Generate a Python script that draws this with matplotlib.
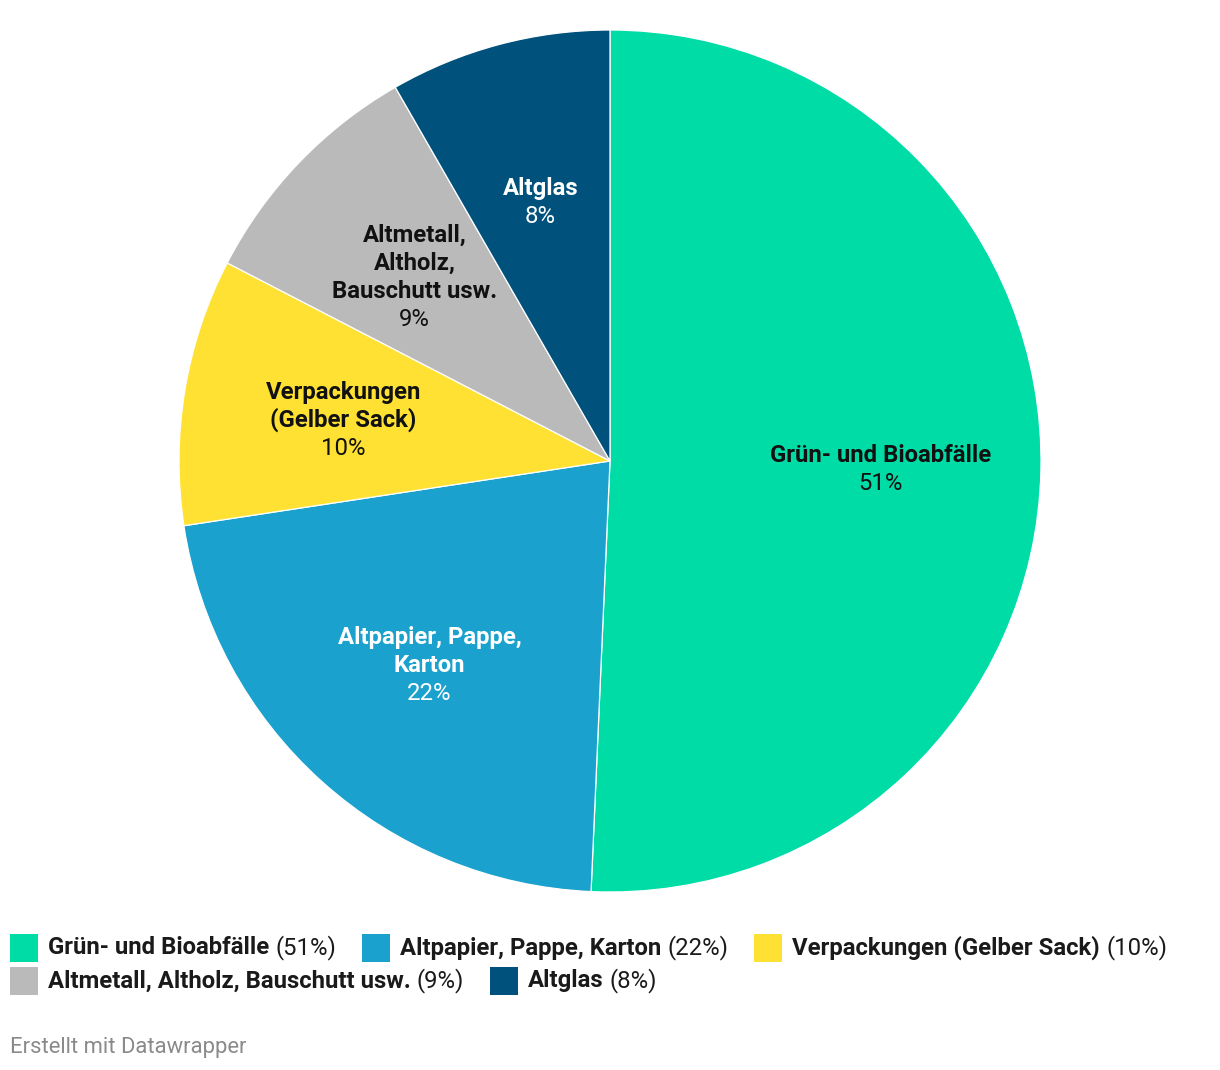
import matplotlib
matplotlib.use("Agg")
import matplotlib.pyplot as plt
import numpy as np

plt.rcParams['font.family'] = ['Roboto', 'DejaVu Sans']

categories = ["Grün- und Bioabfälle", "Altpapier, Pappe, Karton", "Verpackungen (Gelber Sack)",
              "Altmetall, Altholz, Bauschutt usw.", "Altglas"]
pie_labels = ["Grün- und Bioabfälle", "Altpapier, Pappe,\nKarton", "Verpackungen\n(Gelber Sack)",
              "Altmetall,\nAltholz,\nBauschutt usw.", "Altglas"]
values = [50.7, 21.9, 10.0, 9.1, 8.3]
colors = ["#00dca6", "#1aa1cd", "#ffe133", "#bababa", "#00527c"]
text_colors = ["#111111", "#ffffff", "#111111", "#111111", "#ffffff"]

W, H, DPI = 1220, 1070, 100
fig = plt.figure(figsize=(W / DPI, H / DPI), dpi=DPI)
fig.patch.set_facecolor("white")

cx, cy, r = 610, 461, 431
ax = fig.add_axes([(cx - r) / W, (H - cy - r) / H, 2 * r / W, 2 * r / H])

wedges, _ = ax.pie(values, colors=colors, startangle=90, counterclock=False, radius=1,
                   wedgeprops=dict(edgecolor="white", linewidth=0.9))
ax.set_xlim(-1, 1)
ax.set_ylim(-1, 1)
ax.set_aspect("equal")
ax.axis("off")

fs = 17.2
line_h = 28 / r  # data units
shift = 3 / r
total = sum(values)
cum = 0
for v, lab, tc in zip(values, pie_labels, text_colors):
    mid = (cum + v / 2) / total * 2 * np.pi
    cum += v
    lx = 0.627 * np.sin(mid)
    ly = 0.627 * np.cos(mid) - shift
    lines = lab.split("\n")
    n = len(lines) + 1
    top = ly + (n - 1) / 2 * line_h
    for i, ln in enumerate(lines):
        ax.text(lx, top - i * line_h, ln, ha="center", va="center", fontsize=fs,
                fontweight="bold", color=tc)
    ax.text(lx, top - len(lines) * line_h, f"{round(v)}%", ha="center", va="center",
            fontsize=fs, color=tc)

# Legend
renderer = fig.canvas.get_renderer()
rows = [[0, 1, 2], [3, 4]]
row_y = [948, 981]
sq = 28
for row, yc in zip(rows, row_y):
    x = 10
    for idx in row:
        fig.patches.append(plt.Rectangle((x / W, (H - yc - sq / 2) / H), sq / W, sq / H,
                                         transform=fig.transFigure, facecolor=colors[idx],
                                         edgecolor="none"))
        tx = x + 38
        t1 = fig.text(tx / W, (H - yc) / H, categories[idx], ha="left", va="center",
                      fontsize=fs, fontweight="bold", color="#1a1a1a")
        bb = t1.get_window_extent(renderer)
        tx2 = bb.x1 + 6
        t2 = fig.text(tx2 / W, (H - yc) / H, f"({round(values[idx])}%)", ha="left",
                      va="center", fontsize=fs, color="#1a1a1a")
        bb2 = t2.get_window_extent(renderer)
        x = bb2.x1 + 26

fig.text(10 / W, (H - 1047) / H, "Erstellt mit Datawrapper", ha="left", va="center",
         fontsize=15.8, color="#8a8a8a")

fig.savefig("out.png", dpi=DPI, facecolor="white")
